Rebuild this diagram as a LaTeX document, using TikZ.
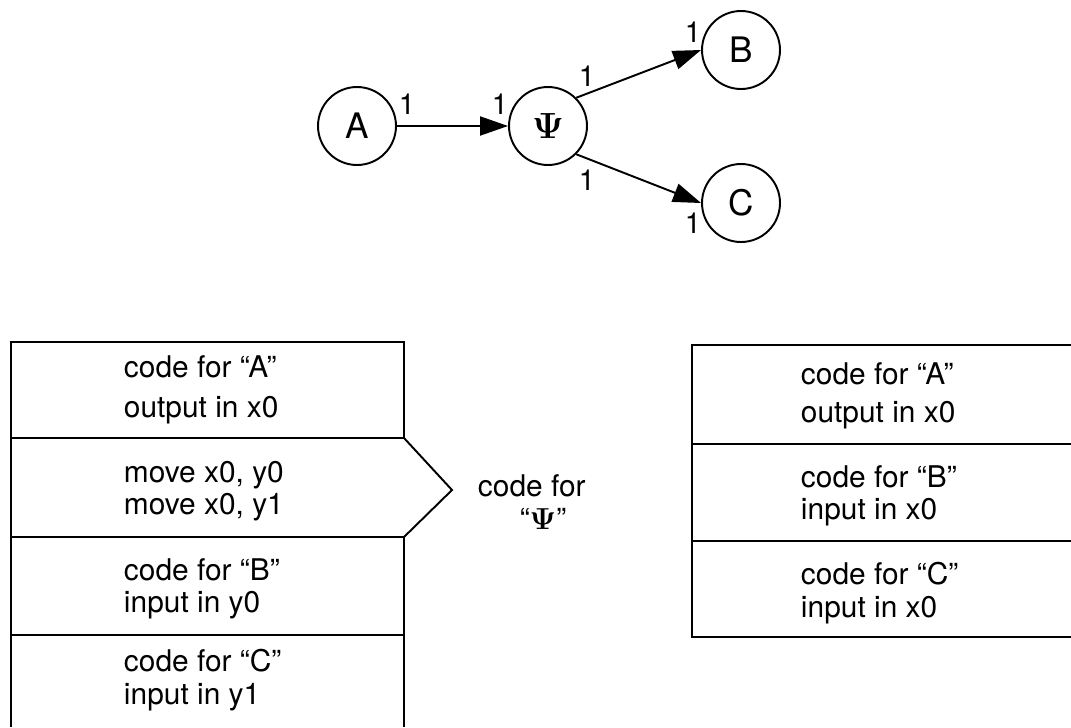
\documentclass[tikz,border=0pt]{standalone}
\usepackage[no-math]{fontspec}
\setmainfont{TeX Gyre Heros}
\usetikzlibrary{arrows.meta}

\begin{document}
\begin{tikzpicture}[x=0.02cm, y=-0.02cm, line width=1.1pt,
  every node/.style = {font=\fontsize{17}{18.5}\selectfont},
  state/.style = {shape=circle, draw, minimum size=1.56cm,
    inner sep=0pt, font=\fontsize{20}{22}\selectfont\boldmath},
  one/.style = {inner sep=0pt, font=\fontsize{16.5}{18}\selectfont},
  code/.style = {anchor=west, align=left, inner sep=0pt},
  flow/.style = {-{Triangle[length=5.6mm, width=3.8mm]}}]
  \useasboundingbox (0,0) rectangle (1071,727);
  % the graph
  \node[state] (a) at (357,126) {A};
  \node[state] (psi) at (548,126) {$\Psi$};
  \node[state] (b) at (741,50) {B};
  \node[state] (c) at (741,203) {C};
  \draw[flow] (a) -- (psi);
  \draw[flow] (psi.north east) -- (b.west);
  \draw[flow] (psi.south east) -- (c.west);
  \node[one] (aout) at (407,104) {1};
  \node[one] (psiin) at (500,104) {1};
  \node[one] (psib) at (587,76) {1};
  \node[one] (psic) at (587,180) {1};
  \node[one] (bin) at (693,32) {1};
  \node[one] (cin) at (693,223) {1};
  % left column, psi inlined
  \draw (11,727) -- (11,342) -- (404,342) -- (404,438) -- (11,438);
  \draw (404,438) -- (452,490) -- (404,537) -- (11,537);
  \draw (404,537) -- (404,727);
  \draw (11,635) -- (404,635);
  \node[code] (lcodeA) at (123,390) {code for “A”\\[4pt]output in x0};
  \node[code] (lmove) at (123,491) {move x0, y0\\move x0, y1};
  \node[code] (lcodeB) at (123,589) {code for “B”\\input in y0};
  \node[code] (lcodeC) at (123,680) {code for “C”\\input in y1};
  \node[code] (psicode) at (477,502) {code for\\\hspace*{1.4em}“{\fontsize{19}{20}\selectfont\boldmath$\Psi$}”};
  % right column
  \draw (1071,345) -- (692,345) -- (692,637) -- (1071,637);
  \draw (692,444) -- (1071,444);
  \draw (692,541) -- (1071,541);
  \node[code] (rcodeA) at (800,396) {code for “A”\\[3pt]output in x0};
  \node[code] (rcodeB) at (800,496) {code for “B”\\input in x0};
  \node[code] (rcodeC) at (800,593) {code for “C”\\input in x0};
\end{tikzpicture}
\end{document}
